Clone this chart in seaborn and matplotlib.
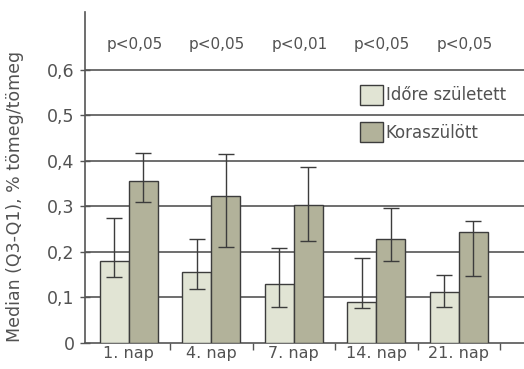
import matplotlib
matplotlib.use("Agg")
import matplotlib.pyplot as plt
from matplotlib.container import BarContainer
from matplotlib.ticker import FixedLocator, FuncFormatter
import numpy as np
import pandas as pd
import seaborn as sns

# Data: median with interquartile range (Q1..Q3), % weight/weight
days = ["1. nap", "4. nap", "7. nap", "14. nap", "21. nap"]
groups = ["Időre született", "Koraszülött"]
term_median = [0.18, 0.155, 0.13, 0.089, 0.113]
term_q1 = [0.146, 0.119, 0.078, 0.076, 0.078]
term_q3 = [0.274, 0.228, 0.208, 0.186, 0.149]
preterm_median = [0.355, 0.323, 0.303, 0.229, 0.243]
preterm_q1 = [0.31, 0.21, 0.223, 0.181, 0.148]
preterm_q3 = [0.417, 0.415, 0.387, 0.297, 0.269]
p_labels = ["p<0,05", "p<0,05", "p<0,01", "p<0,05", "p<0,05"]
y_ticks = [0, 0.1, 0.2, 0.3, 0.4, 0.5, 0.6]

colors = ["#e3e7d1", "#b6b696"]
ink = "#525252"

sns.set_theme(style="white")
plt.rcParams["font.family"] = ["DejaVu Sans"]
plt.rcParams["text.color"] = ink

df = pd.DataFrame({
    "day": days * 2,
    "group": [groups[0]] * len(days) + [groups[1]] * len(days),
    "value": term_median + preterm_median,
})

fig = plt.figure(figsize=(5.24, 3.69), dpi=100)
ax = fig.add_axes([85 / 524, 26 / 369, 439 / 524, 331 / 369])

sns.barplot(data=df, x="day", y="value", hue="group", order=days,
            hue_order=groups, palette=colors, width=0.7, edgecolor="#3c3c3c",
            linewidth=1.0, errorbar=None, ax=ax, zorder=3)

# IQR whiskers on each bar
bar_sets = [c for c in ax.containers if isinstance(c, BarContainer)]
lows = [term_q1, preterm_q1]
highs = [term_q3, preterm_q3]
meds = [term_median, preterm_median]
for k, cont in enumerate(bar_sets):
    xs = [p.get_x() + p.get_width() / 2 for p in cont.patches]
    m = np.array(meds[k])
    yerr = [m - np.array(lows[k]), np.array(highs[k]) - m]
    ax.errorbar(xs, m, yerr=yerr, fmt="none", ecolor="#3c3c3c",
                elinewidth=1.0, capsize=6, capthick=1.0, zorder=4)

# significance labels above each day
for i, lab in enumerate(p_labels):
    ax.text(i + 0.07, 0.655, lab, ha="center", va="center",
            fontsize=11, color=ink)

# horizontal gridlines
for yv in y_ticks[1:]:
    ax.axhline(yv, color="#555555", linewidth=1.2, zorder=1)

ax.set_xlim(-0.53, 4.79)
ax.set_ylim(0, 0.727)
ax.yaxis.set_major_locator(FixedLocator(y_ticks))
ax.yaxis.set_major_formatter(FuncFormatter(
    lambda v, _: "0" if v == 0 else f"{v:.1f}".replace(".", ",")))
ax.set_xlabel("")
ax.set_ylabel("Median (Q3-Q1), % tömeg/tömeg", fontsize=12.5, color=ink)
ax.yaxis.set_label_coords(-0.139, 0.444)

ax.xaxis.set_minor_locator(FixedLocator([0.5, 1.5, 2.5, 3.5, 4.5]))
ax.tick_params(axis="x", which="major", length=0, labelsize=11.5,
               labelcolor=ink, pad=2)
ax.tick_params(axis="x", which="minor", length=5, width=1.0,
               color="#555555", direction="out", bottom=True)
ax.tick_params(axis="y", length=7, width=1.0, color="#555555",
               direction="inout", labelsize=12.5, labelcolor=ink, left=True,
               pad=4)

for s in ["top", "right"]:
    ax.spines[s].set_visible(False)
for s in ["left", "bottom"]:
    ax.spines[s].set_color("#555555")
    ax.spines[s].set_linewidth(1.2)

handles, labels = ax.get_legend_handles_labels()
ax.legend(handles, labels, loc="upper left",
          bbox_to_anchor=(360 / 524, 1 - 85 / 369),
          bbox_transform=fig.transFigure, frameon=False, fontsize=12,
          handlelength=1.35, handleheight=1.45, handletextpad=0.2,
          labelspacing=1.05, borderpad=0, borderaxespad=0)

fig.savefig("out.png", dpi=100)
